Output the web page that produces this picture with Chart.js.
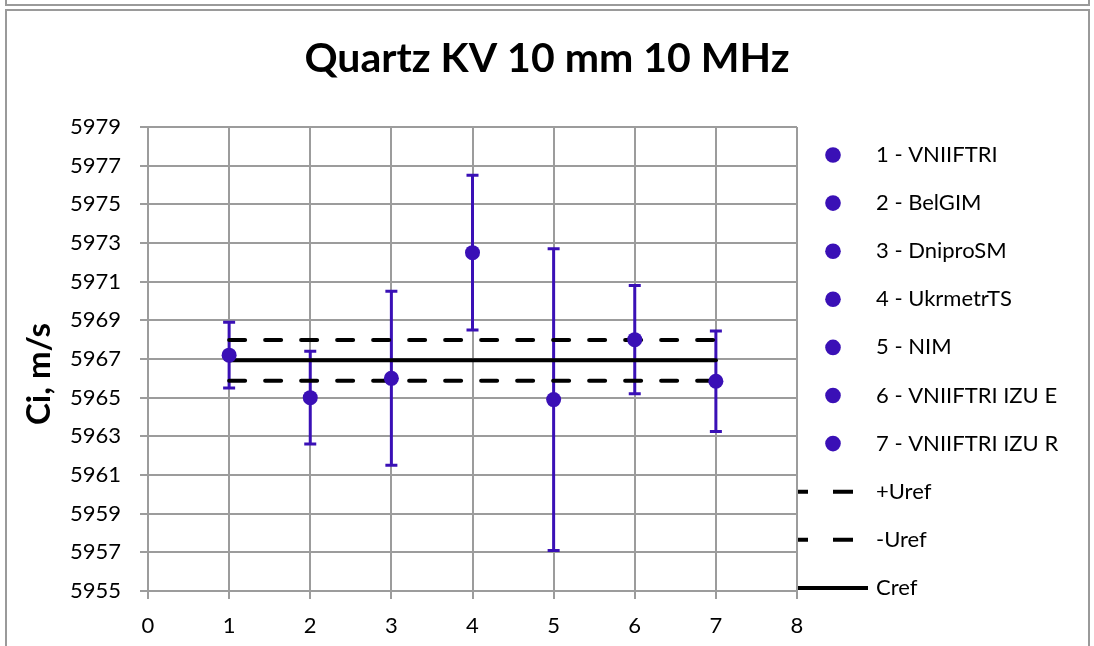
<!DOCTYPE html>
<html>
<head>
<meta charset="utf-8">
<title>Quartz KV 10 mm 10 MHz</title>
<script src="https://cdn.jsdelivr.net/npm/chart.js@4.4.1/dist/chart.umd.min.js"></script>
<style>
html, body { margin: 0; padding: 0; background: #fff; width: 1094px; height: 646px; overflow: hidden; }
.frame-prev { position: absolute; left: 5px; top: -20px; width: 1081px; height: 22px; border: 2px solid #9a9a9a; }
.frame { position: absolute; left: 5px; top: 9px; width: 1081px; height: 700px; border: 2px solid #9a9a9a; }
#wrap { position: absolute; left: 0; top: 0; width: 1094px; height: 646px; }
</style>
</head>
<body>
<div class="frame-prev"></div>
<div class="frame"></div>
<div id="wrap"><canvas id="quartzChart"></canvas></div>
<script>
// participants (x position = lab number)
const labNames = ['1 - VNIIFTRI', '2 - BelGIM', '3 - DniproSM', '4 - UkrmetrTS', '5 - NIM', '6 - VNIIFTRI IZU E', '7 - VNIIFTRI IZU R'];
const labIndex = [1, 2, 3, 4, 5, 6, 7];
// measured sound speed Ci, m/s and its expanded uncertainty
const speedValues = [5967.2, 5965.0, 5966.0, 5972.5, 5964.9, 5968.0, 5965.85];
const speedUnc = [1.7, 2.4, 4.5, 4.0, 7.8, 2.8, 2.6];
// reference value and its uncertainty band
const refX = [1, 7];
const upperRef = [5967.98, 5967.98];
const lowerRef = [5965.88, 5965.88];
const cRefLine = [5966.93, 5966.93];
// axes
const xMin = 0, xMax = 8, xStep = 1;
const yMin = 5955, yMax = 5979, yStep = 2;

const markColor = '#3a10b6';
const gridColor = '#9c9c9c';

const datasets = labNames.map((name, i) => ({
	label: name,
	data: [{ x: labIndex[i], y: speedValues[i] }],
	showLine: false,
	pointRadius: 7.5,
	pointHoverRadius: 7.5,
	pointBackgroundColor: markColor,
	pointBorderWidth: 0,
	borderColor: markColor,
	backgroundColor: markColor
}));

const refLine = (label, values, dash) => ({
	label: label,
	data: refX.map((x, i) => ({ x: x, y: values[i] })),
	showLine: true,
	borderColor: '#000',
	borderWidth: 4,
	borderDash: dash,
	borderCapStyle: 'round',
	pointRadius: 0,
	fill: false
});
datasets.push(refLine('+Uref', upperRef, [16, 20]));
datasets.push(refLine('-Uref', lowerRef, [16, 20]));
datasets.push(refLine('Cref', cRefLine, []));

// vertical error bars with caps, under the markers and lines
const errorBars = {
	id: 'errorBars',
	beforeDatasetsDraw(chart) {
		const { ctx } = chart;
		const x = chart.scales.x, y = chart.scales.y;
		ctx.save();
		ctx.strokeStyle = markColor;
		ctx.lineWidth = 3;
		labIndex.forEach((lab, i) => {
			const px = x.getPixelForValue(lab);
			const top = y.getPixelForValue(speedValues[i] + speedUnc[i]);
			const bot = y.getPixelForValue(speedValues[i] - speedUnc[i]);
			ctx.beginPath();
			ctx.moveTo(px, top);
			ctx.lineTo(px, bot);
			ctx.moveTo(px - 6, top);
			ctx.lineTo(px + 6, top);
			ctx.moveTo(px - 6, bot);
			ctx.lineTo(px + 6, bot);
			ctx.stroke();
		});
		ctx.restore();
	}
};

// legend column on the right + rotated y title
const sideLegend = {
	id: 'sideLegend',
	afterDraw(chart) {
		const { ctx } = chart;
		const left = chart.chartArea.right + 1;
		ctx.save();
		ctx.font = '22px Lato';
		ctx.textBaseline = 'middle';
		chart.data.datasets.forEach((ds, i) => {
			const cy = 155 + i * 48.1;
			if (ds.showLine) {
				ctx.beginPath();
				ctx.strokeStyle = ds.borderColor;
				ctx.lineWidth = 4;
				ctx.lineCap = 'butt';
				if (ds.borderDash.length) {
					ctx.setLineDash([20, 25]);
					ctx.lineDashOffset = 10;
				} else {
					ctx.setLineDash([]);
				}
				ctx.moveTo(left, cy);
				ctx.lineTo(left + 70, cy);
				ctx.stroke();
			} else {
				ctx.beginPath();
				ctx.fillStyle = ds.pointBackgroundColor;
				ctx.arc(left + 35, cy, 7.8, 0, Math.PI * 2);
				ctx.fill();
			}
			ctx.fillStyle = '#000';
			ctx.textAlign = 'left';
			ctx.fillText(ds.label, left + 78, cy);
		});

		ctx.translate(39, 374);
		ctx.rotate(-Math.PI / 2);
		ctx.font = 'bold 33px Lato';
		ctx.textAlign = 'center';
		ctx.fillStyle = '#000';
		ctx.fillText('Ci, m/s', 0, 0);
		ctx.restore();
	}
};

new Chart(document.getElementById('quartzChart'), {
	type: 'scatter',
	data: { datasets: datasets },
	plugins: [errorBars, sideLegend],
	options: {
		responsive: true,
		maintainAspectRatio: false,
		animation: false,
		events: [],
		layout: { padding: 0 },
		plugins: {
			legend: { display: false },
			tooltip: { enabled: false },
			title: {
				display: true,
				text: 'Quartz KV 10 mm 10 MHz',
				color: '#000',
				font: { family: 'Lato', size: 41, weight: 'bold', lineHeight: 1.2 },
				padding: { top: 34.5, bottom: 43.3 }
			}
		},
		scales: {
			x: {
				type: 'linear',
				min: xMin,
				max: xMax,
				afterFit: (scale) => { scale.height = 55; },
				grid: { color: gridColor, lineWidth: 2, tickLength: 8 },
				border: { color: gridColor, width: 2 },
				ticks: {
					stepSize: xStep,
					autoSkip: false,
					maxRotation: 0,
					padding: 14,
					color: '#000',
					font: { family: 'Lato', size: 22 }
				}
			},
			y: {
				min: yMin,
				max: yMax,
				afterFit: (scale) => { scale.width = 148; },
				grid: { color: gridColor, lineWidth: 2, tickLength: 8 },
				border: { color: gridColor, width: 2 },
				ticks: {
					stepSize: yStep,
					autoSkip: false,
					padding: 19,
					color: '#000',
					font: { family: 'Lato', size: 22 },
					callback: (v) => String(v)
				}
			},
			// empty box on the right that holds the legend column
			legendSpace: {
				type: 'linear',
				position: 'right',
				display: true,
				afterFit: (scale) => { scale.width = 297; },
				grid: { display: false },
				border: { display: false },
				ticks: { display: false }
			}
		}
	}
});
</script>
</body>
</html>
